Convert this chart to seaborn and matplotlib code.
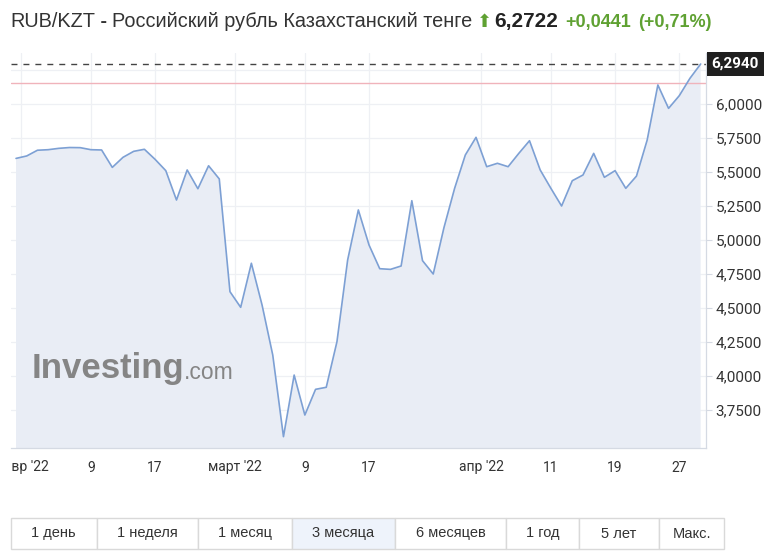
import numpy as np
import pandas as pd
import seaborn as sns
import matplotlib.pyplot as plt
from matplotlib.patches import Rectangle
from matplotlib.ticker import FuncFormatter
from matplotlib.transforms import Bbox

# RUB/KZT closes, one per trading day (Feb - Apr 2022)
rates = [5.600, 5.618, 5.660, 5.664, 5.674, 5.680, 5.679, 5.664, 5.662, 5.534,
         5.608, 5.652, 5.667, 5.593, 5.510, 5.294, 5.515, 5.377, 5.546, 5.449,
         4.620, 4.505, 4.829, 4.522, 4.154, 3.554, 4.007, 3.713, 3.902, 3.917,
         4.252, 4.853, 5.221, 4.963, 4.789, 4.784, 4.809, 5.289, 4.848, 4.750,
         5.090, 5.380, 5.625, 5.755, 5.539, 5.564, 5.539, 5.637, 5.730, 5.515,
         5.380, 5.250, 5.436, 5.478, 5.637, 5.461, 5.510, 5.380, 5.470, 5.735,
         6.140, 5.968, 6.061, 6.189, 6.294]
last_price = 6.294
prev_close = 6.155

x_tick_pos = [0.5, 7.0, 13.0, 20.5, 27.0, 33.0, 43.5, 50.0, 56.0, 62.0]
x_tick_labels = ["февр '22", "9", "17", "март '22", "9", "17", "апр '22", "11", "19", "27"]
y_ticks = [3.75, 4.0, 4.25, 4.5, 4.75, 5.0, 5.25, 5.5, 5.75, 6.0, 6.25]

buttons = ["1 день", "1 неделя", "1 месяц", "3 месяца", "6 месяцев", "1 год", "5 лет", "Макс."]
button_edges = [11, 96.5, 198, 291.5, 395, 506, 579, 659, 724]
active_button = "3 месяца"

title_parts = [("RUB/KZT", "normal"), (" - ", "bold"),
               ("Российский рубль Казахстанский тенге", "normal")]
quote = "6,2722"
change = "+0,0441"
change_pct = "(+0,71%)"

df = pd.DataFrame({"idx": np.arange(len(rates)), "rate": rates})

sns.set_style("white")
plt.rcParams["font.family"] = ["Roboto", "DejaVu Sans"]
arial = ["Liberation Sans", "DejaVu Sans"]

W, H = 782, 555
fig = plt.figure(figsize=(W / 100, H / 100), dpi=100)
ax = fig.add_axes([11 / W, 1 - 448 / H, (706 - 11) / W, (448 - 53) / H])

line_col = "#7da0d4"
ax.fill_between(df["idx"], df["rate"], 0, color="#e9edf5", zorder=1, linewidth=0)
sns.lineplot(data=df, x="idx", y="rate", ax=ax, color=line_col, linewidth=1.2, zorder=3)

ax.set_xlim(-0.47, 64.5)
ax.set_ylim(3.4706, 6.375)
ax.set_xlabel("")
ax.set_ylabel("")

ax.set_xticks(x_tick_pos)
ax.set_xticklabels(x_tick_labels)
ax.yaxis.tick_right()
ax.set_yticks(y_ticks)
# the 6,2500 label sits under the last-price box, so it is left blank
ax.yaxis.set_major_formatter(FuncFormatter(
    lambda v, p: "" if v > 6.2 else f"{v:.4f}".replace(".", ",")))
ax.tick_params(axis="x", length=5, width=0.8, color="#d5dae3", labelsize=10, labelcolor="#333333", pad=4)
ax.tick_params(axis="y", length=4, width=0.8, color="#d5dae3", labelsize=11, labelcolor="#333333", pad=3)
ax.grid(True, color="#eef0f4", linewidth=0.9, zorder=0)
ax.set_axisbelow(True)
for s in ["left", "top"]:
    ax.spines[s].set_visible(False)
for s in ["right", "bottom"]:
    ax.spines[s].set_color("#d5dae3")
    ax.spines[s].set_linewidth(0.9)

# first month label is cut by the chart's left edge
first = ax.get_xticklabels()[0]
first.set_clip_on(True)
first.set_clip_box(Bbox([[11, 0], [W, H]]))

ax.axhline(prev_close, color="#f0b3bb", linewidth=1.0, zorder=2)
ax.axhline(last_price, color="#444444", linewidth=1.0, linestyle=(0, (4.3, 4.3)), zorder=2)
ax.annotate(f"{last_price:.4f}".replace(".", ","), xy=(1, last_price),
            xycoords=("axes fraction", "data"), xytext=(4, 0), textcoords="offset points",
            ha="left", va="center", fontsize=11, fontweight="bold", color="white",
            bbox=dict(boxstyle="square,pad=0.3", fc="#1f1f1f", ec="none"),
            annotation_clip=False, zorder=10)

# watermark
wm = ax.text(0.029, 0.178, "Investing", transform=ax.transAxes, fontsize=25,
             fontweight="bold", color="#858585", family=arial,
             ha="left", va="baseline", zorder=2)
fig.canvas.draw()
r = fig.canvas.get_renderer()
bb = wm.get_window_extent(r)
fig.text(bb.x1 / W, bb.y0 / H + 0.011, ".com", fontsize=16.5,
         color="#858585", family=arial, ha="left", va="baseline")

# title line
x = 10
ty = 1 - 27 / H
for txt, wt in title_parts:
    t = fig.text(x / W, ty, txt, fontsize=14.3, fontweight=wt, color="#333333",
                 family=arial, va="baseline")
    x = t.get_window_extent(r).x1
green = "#5fa132"
t = fig.text((x + 4) / W, ty, "⬆", fontsize=13, color=green, family=["DejaVu Sans"], va="baseline")
x = t.get_window_extent(r).x1
t = fig.text((x + 2) / W, ty, quote, fontsize=15, fontweight="bold", color="#222222",
             family=arial, va="baseline")
x = t.get_window_extent(r).x1
t = fig.text((x + 7) / W, ty, change, fontsize=13, fontweight="bold", color=green,
             family=arial, va="baseline")
x = t.get_window_extent(r).x1
fig.text((x + 8) / W, ty, change_pct, fontsize=13, fontweight="bold", color=green,
         family=arial, va="baseline")

# range buttons
y0, y1 = 518, 549
for i, lab in enumerate(buttons):
    xa, xb = button_edges[i], button_edges[i + 1]
    fc = "#eef3fb" if lab == active_button else "white"
    fig.patches.append(Rectangle((xa / W, 1 - y1 / H), (xb - xa) / W, (y1 - y0) / H,
                                 transform=fig.transFigure, fc=fc, ec="#d9d9d9", lw=1))
    fig.text((xa + xb) / 2 / W, 1 - (y0 + y1) / 2 / H, lab, ha="center", va="center",
             fontsize=10.5, color="#333333", family=arial)

fig.savefig("out.png", dpi=100)
